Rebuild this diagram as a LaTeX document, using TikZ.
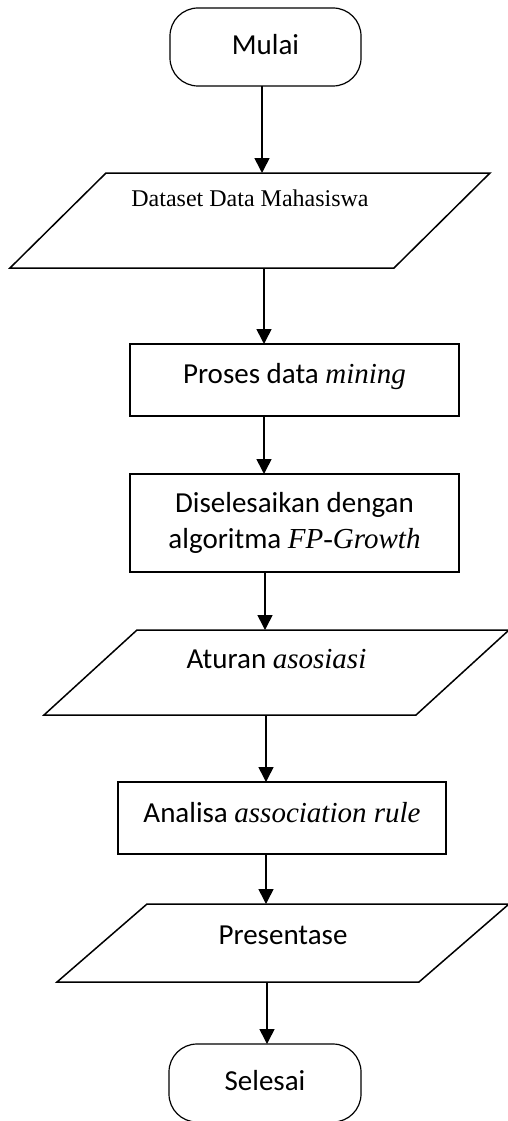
\documentclass[tikz,border=0pt]{standalone}
\usepackage{fontspec}
\setmainfont{Carlito}
\newfontfamily\tnr{Liberation Serif}
\usetikzlibrary{arrows.meta}
\newcommand\paradraw[2]{\draw[boxline] ([xshift=#2]#1.north west) -- (#1.north east) -- ([xshift=-#2]#1.south east) -- (#1.south west) -- cycle;}
\begin{document}
\begin{tikzpicture}[x=1pt,y=-1pt,
  base/.style={inner xsep=2pt,inner ysep=0pt,outer sep=0pt,font=\fontsize{29}{36}\selectfont},
  boxline/.style={line width=1.5pt,line join=miter},
  term/.style={base,draw,line width=1.2pt,rounded corners=28pt},
  proc/.style={base,draw,line width=1.5pt},
  io/.style={base,draw=none},
  arr/.style={line width=1.6pt,-{Triangle[length=15pt,width=15pt]}}]
\useasboundingbox (0,0) rectangle (508,1121);
\node[term,minimum width=191pt,text height=47pt,text depth=31pt] (mulai) at (265.5,47) {Mulai};
\node[io,minimum width=480pt,text height=33pt,text depth=62pt,font=\tnr\fontsize{24}{28}\selectfont] (data) at (250,220.5) {Dataset Data Mahasiswa};
\node[proc,minimum width=329pt,text height=39pt,text depth=33pt] (proses) at (294.5,380) {Proses data {\tnr\itshape mining}};
\node[proc,minimum width=329pt,minimum height=98pt,align=center] (fp) at (294.5,523) {Diselesaikan dengan\\algoritma {\tnr\itshape FP-Growth}};
\node[io,minimum width=465pt,text height=38pt,text depth=47pt] (aturan) at (276.5,672.5) {Aturan {\tnr\itshape asosiasi}};
\node[proc,minimum width=328pt,text height=40pt,text depth=32pt] (analisa) at (282,818) {Analisa {\tnr\itshape association rule}};
\node[io,minimum width=452pt,text height=40pt,text depth=38pt] (pres) at (283,943) {Presentase};
\node[term,minimum width=192pt,text height=46pt,text depth=32pt] (selesai) at (265,1083) {Selesai};
\paradraw{data}{96pt}
\paradraw{aturan}{93pt}
\paradraw{pres}{90pt}
\draw[arr] (mulai.south -| 262,0) -- (data.north -| 262,0);
\draw[arr] (data.south -| 264,0) -- (proses.north -| 264,0);
\draw[arr] (proses.south -| 264,0) -- (fp.north -| 264,0);
\draw[arr] (fp.south -| 265,0) -- (aturan.north -| 265,0);
\draw[arr] (aturan.south -| 266,0) -- (analisa.north -| 266,0);
\draw[arr] (analisa.south -| 266,0) -- (pres.north -| 266,0);
\draw[arr] (pres.south -| 267,0) -- (selesai.north -| 267,0);
\end{tikzpicture}
\end{document}
